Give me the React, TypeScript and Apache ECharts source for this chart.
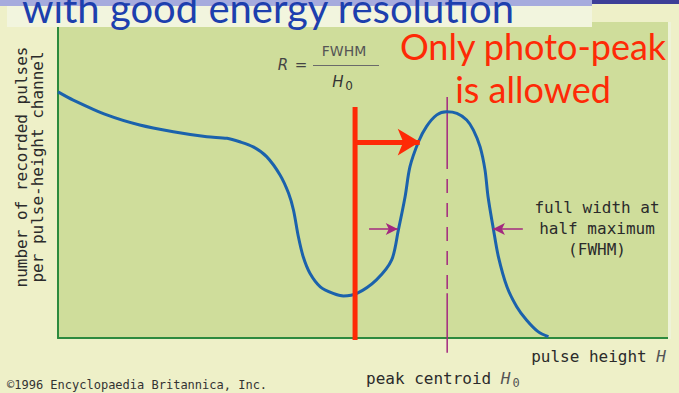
import React, { useEffect, useRef } from "react";
import * as echarts from "echarts";

// Pulse-height spectrum (arbitrary units, 0–100 on both axes)
const pulseHeight = [
  0, 2.5, 8.0, 13.4, 18.9, 24.4, 27.7, 29.8, 32.0, 34.2, 36.4, 37.8, 38.6, 39.4,
  40.2, 41.3, 43.0, 45.1, 46.8, 49.0, 52.2, 54.7, 55.8, 56.9, 57.7, 59.1, 60.4,
  62.1, 63.7, 65.4, 67.0, 68.1, 69.2, 70.0, 70.5, 71.4, 72.2, 73.6, 75.2, 76.8,
  78.7, 80.4,
];
const counts = [
  77.9, 75.3, 70.6, 67.4, 65.3, 63.7, 63.2, 62.1, 60.5, 57.4, 51.6, 45.8, 40.5,
  32.1, 25.7, 20.5, 16.2, 14.1, 13.3, 14.1, 18.4, 24.7, 34.2, 44.7, 54.2, 62.1,
  66.9, 70.6, 71.6, 71.1, 69.0, 65.8, 60.5, 53.2, 44.7, 34.2, 25.7, 16.2, 9.9,
  5.7, 2.0, 0.4,
];

// Energy threshold (red bar) and its arrow
const thresholdX = 48.7;
const thresholdSpan = [73.1, -0.6];
const thresholdArrow = [48.7, 59.3, 62.0]; // from x, to x, at y

// Peak centroid marker: solid / dashed / solid pieces
const centroidX = 63.8;
const centroidBreaks = [76.3, 57.9, 14.2, -4.7];

// FWHM arrows at half maximum
const halfMaxY = 34.5;
const fwhmEdges = [55.7, 71.3];
const fwhmTails = [51.0, 76.2];

// Texts
const titleText = "with good energy resolution";
const noteLines = ["Only photo-peak", "is allowed"];
const yAxisLines = ["number of recorded pulses", "per pulse-height channel"];
const fwhmLines = ["full width at", "half maximum", "(FWHM)"];
const xAxisText = ["pulse height ", "H"];
const centroidText = ["peak centroid ", "H", "0"];
const formulaText = ["R", "=", "FWHM", "H", "0"];
const creditText = "©1996 Encyclopaedia Britannica, Inc.";

const MONO = '"DejaVu Sans Mono", monospace';
const SANS = '"DejaVu Sans", sans-serif';
const HUMAN = 'Lato, "Open Sans", sans-serif';
const INK = "#2b2b2b";
const MAGENTA = "#a3287f";
const RED = "#fe2a06";

function centroidPiece(from: number, to: number, dashed: boolean) {
  return {
    type: "line" as const,
    data: [
      [centroidX, from],
      [centroidX, to],
    ],
    clip: false,
    symbol: "none",
    silent: true,
    z: 2,
    lineStyle: { color: MAGENTA, width: 1.5, type: dashed ? [14, 10] : "solid" },
  };
}

export default function App() {
  const ref = useRef<HTMLDivElement>(null);

  useEffect(() => {
    if (!ref.current) return;
    const chart = echarts.init(ref.current, undefined, { renderer: "svg" });

    const curve = pulseHeight.map((x, i) => [x, counts[i]]);

    const option: echarts.EChartsOption = {
      animation: false,
      backgroundColor: "#eef0c8",
      grid: {
        left: 58,
        right: 11,
        top: 22,
        bottom: 55,
        show: true,
        backgroundColor: "#cfdd9b",
        borderWidth: 0,
      },
      xAxis: {
        type: "value",
        min: 0,
        max: 100,
        axisLine: { show: true, onZero: false, lineStyle: { color: "#2d8a3e", width: 2 } },
        axisTick: { show: false },
        axisLabel: { show: false },
        splitLine: { show: false },
      },
      yAxis: {
        type: "value",
        min: 0,
        max: 100,
        axisLine: { show: true, onZero: false, lineStyle: { color: "#2d8a3e", width: 2 } },
        axisTick: { show: false },
        axisLabel: { show: false },
        splitLine: { show: false },
      },
      series: [
        {
          type: "line",
          data: curve,
          smooth: 0.3,
          symbol: "none",
          silent: true,
          lineStyle: { color: "#1b62ac", width: 3 },
          z: 3,
        },
        {
          type: "line",
          data: [
            [thresholdX, thresholdSpan[0]],
            [thresholdX, thresholdSpan[1]],
          ],
          clip: false,
          symbol: "none",
          silent: true,
          lineStyle: { color: RED, width: 5, cap: "butt" },
          z: 4,
          markLine: {
            silent: true,
            symbol: ["none", "arrow"],
            symbolSize: [20, 22],
            label: { show: false },
            lineStyle: { color: RED, width: 5, type: "solid" },
            itemStyle: { color: RED },
            data: [
              [
                { coord: [thresholdArrow[0], thresholdArrow[2]] },
                { coord: [thresholdArrow[1], thresholdArrow[2]] },
              ],
            ],
          },
        },
        centroidPiece(centroidBreaks[0], centroidBreaks[1], false),
        centroidPiece(centroidBreaks[1], centroidBreaks[2], true),
        centroidPiece(centroidBreaks[2], centroidBreaks[3], false),
        {
          type: "line",
          data: [],
          symbol: "none",
          silent: true,
          z: 4,
          markLine: {
            silent: true,
            symbol: ["none", "arrow"],
            symbolSize: [9, 12],
            label: { show: false },
            lineStyle: { color: MAGENTA, width: 1.5, type: "solid" },
            itemStyle: { color: MAGENTA },
            data: fwhmEdges.map((edge, i) => [
              { coord: [fwhmTails[i], halfMaxY] },
              { coord: [edge, halfMaxY] },
            ]),
          },
        },
      ],
      graphic: [
        // slide header strip and title box
        { type: "rect", left: 0, top: 0, shape: { width: 679, height: 4 }, style: { fill: "#3d3f97" }, z: 100 },
        { type: "rect", left: 0, top: 0, shape: { width: 592, height: 6 }, style: { fill: "#a6abdd" }, z: 101 },
        { type: "rect", left: 7, top: 6, shape: { width: 585, height: 21 }, style: { fill: "#f2f5de" }, z: 101 },
        {
          type: "text",
          x: 22,
          y: 8,
          z: 102,
          style: {
            text: titleText,
            fontFamily: HUMAN,
            fontSize: 40,
            fill: "#1d3fae",
            align: "left",
            verticalAlign: "middle",
          },
        },
        // light edge on the right of the plot panel
        { type: "rect", left: 668, top: 22, shape: { width: 3, height: 317 }, style: { fill: "#eef3d8" }, z: 100 },
        // red note
        ...noteLines.map((t, i) => ({
          type: "text" as const,
          x: 533,
          y: 46 + i * 43,
          z: 102,
          style: {
            text: t,
            fontFamily: HUMAN,
            fontSize: 36,
            fill: RED,
            align: "center" as const,
            verticalAlign: "middle" as const,
          },
        })),
        // resolution formula
        {
          type: "text",
          x: 283,
          y: 65,
          z: 102,
          style: { text: formulaText[0], fontFamily: SANS, fontStyle: "italic", fontSize: 15, fill: "#444", align: "center", verticalAlign: "middle" },
        },
        {
          type: "text",
          x: 301,
          y: 65,
          z: 102,
          style: { text: formulaText[1], fontFamily: SANS, fontSize: 15, fill: "#444", align: "center", verticalAlign: "middle" },
        },
        {
          type: "text",
          x: 344,
          y: 51,
          z: 102,
          style: { text: formulaText[2], fontFamily: SANS, fontSize: 14, fill: "#555", align: "center", verticalAlign: "middle" },
        },
        { type: "line", z: 102, shape: { x1: 313, y1: 65.5, x2: 379, y2: 65.5 }, style: { stroke: "#6a6a6a", lineWidth: 1 } },
        {
          type: "text",
          x: 338,
          y: 82,
          z: 102,
          style: { text: formulaText[3], fontFamily: SANS, fontStyle: "italic", fontSize: 15, fill: "#333", align: "center", verticalAlign: "middle" },
        },
        {
          type: "text",
          x: 349,
          y: 86,
          z: 102,
          style: { text: formulaText[4], fontFamily: SANS, fontSize: 12, fill: "#333", align: "center", verticalAlign: "middle" },
        },
        // y axis title
        {
          type: "text",
          x: 29,
          y: 167,
          rotation: Math.PI / 2,
          z: 102,
          style: {
            text: yAxisLines.join("\n"),
            fontFamily: MONO,
            fontSize: 16,
            lineHeight: 16,
            fill: INK,
            align: "center",
            verticalAlign: "middle",
          },
        },
        // FWHM note
        {
          type: "text",
          x: 597,
          y: 228,
          z: 102,
          style: {
            text: fwhmLines.join("\n"),
            fontFamily: MONO,
            fontSize: 16,
            lineHeight: 21,
            fill: INK,
            align: "center",
            verticalAlign: "middle",
          },
        },
        // x axis title
        {
          type: "text",
          x: 666,
          y: 356,
          z: 102,
          style: {
            text: `{n|${xAxisText[0]}}{i|${xAxisText[1]}}`,
            align: "right",
            verticalAlign: "middle",
            rich: {
              n: { fontFamily: MONO, fontSize: 16, fill: INK },
              i: { fontFamily: MONO, fontSize: 16, fontStyle: "italic", fill: "#555" },
            },
          },
        },
        // peak centroid label
        {
          type: "text",
          x: 366,
          y: 378,
          z: 102,
          style: {
            text: `{n|${centroidText[0]}}{i|${centroidText[1]}}`,
            align: "left",
            verticalAlign: "middle",
            rich: {
              n: { fontFamily: MONO, fontSize: 16, fill: INK },
              i: { fontFamily: MONO, fontSize: 16, fontStyle: "italic", fill: "#555" },
            },
          },
        },
        {
          type: "text",
          x: 516,
          y: 383,
          z: 102,
          style: { text: centroidText[2], fontFamily: MONO, fontSize: 12, fill: "#555", align: "center", verticalAlign: "middle" },
        },
        // credit line
        {
          type: "text",
          x: 7,
          y: 385,
          z: 102,
          style: { text: creditText, fontFamily: MONO, fontSize: 12, fill: "#333", align: "left", verticalAlign: "middle" },
        },
      ],
    };

    chart.setOption(option);
    return () => chart.dispose();
  }, []);

  return (
    <div
      ref={ref}
      style={{ position: "fixed", left: 0, top: 0, width: 679, height: 393, background: "#eef0c8" }}
    />
  );
}
